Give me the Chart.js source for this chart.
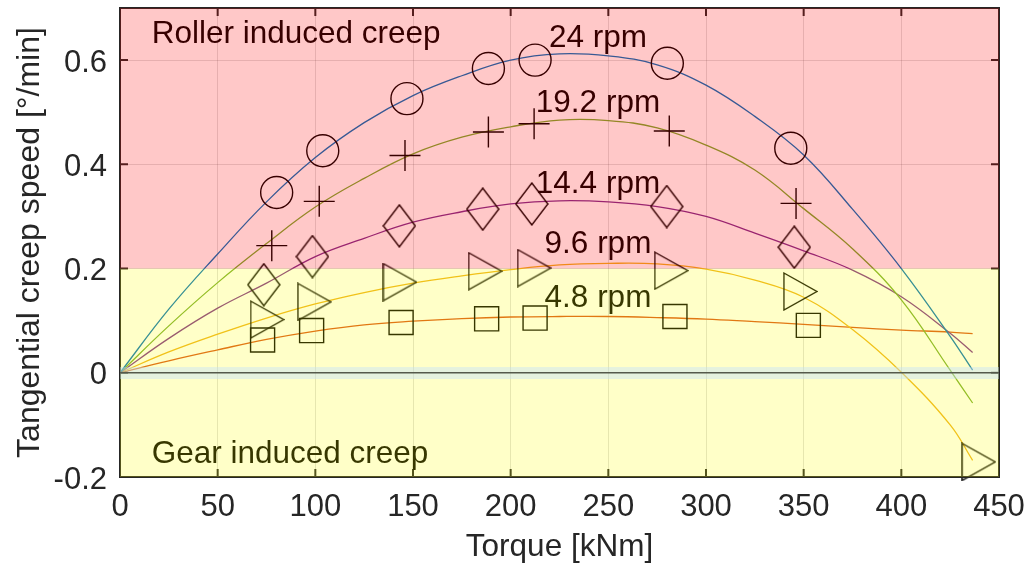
<!DOCTYPE html>
<html>
<head>
<meta charset="utf-8">
<script src="https://cdn.jsdelivr.net/npm/chart.js@4"></script>
<style>
  body { margin: 0; background: #fff; }
  #wrap { width: 1028px; height: 566px; }
</style>
</head>
<body>
<div id="wrap"><canvas id="creep"></canvas></div>
<script>
// rotation speeds and their labels
const speeds = ['24 rpm', '19.2 rpm', '14.4 rpm', '9.6 rpm', '4.8 rpm'];
const lineColors = ['#0072BD', '#77AC30', '#7E2F8E', '#EDB120', '#D95319'];

// fitted curves at these torques [kNm]
const curveTorque = [0, 25, 50, 75, 100, 125, 150, 175, 200, 225, 250, 275, 300, 325, 350, 375, 400, 425, 436.5];
const curve24  = [0, 0.122, 0.228, 0.328, 0.413, 0.480, 0.532, 0.570, 0.600, 0.612, 0.608, 0.591, 0.552, 0.492, 0.418, 0.314, 0.200, 0.070, 0.005];
const curve192 = [0, 0.090, 0.173, 0.248, 0.318, 0.373, 0.420, 0.452, 0.472, 0.485, 0.484, 0.470, 0.437, 0.389, 0.315, 0.238, 0.140, 0.005, -0.058];
const curve144 = [0, 0.066, 0.124, 0.172, 0.223, 0.258, 0.289, 0.309, 0.324, 0.330, 0.328, 0.319, 0.300, 0.268, 0.234, 0.197, 0.146, 0.076, 0.039];
const curve96  = [0, 0.040, 0.074, 0.105, 0.132, 0.154, 0.172, 0.186, 0.198, 0.207, 0.210, 0.209, 0.199, 0.178, 0.145, 0.083, 0.001, -0.100, -0.168];
const curve48  = [0, 0.023, 0.044, 0.064, 0.080, 0.092, 0.099, 0.104, 0.107, 0.108, 0.108, 0.106, 0.103, 0.098, 0.093, 0.087, 0.082, 0.078, 0.075];

// measured points
const meas24x  = [80.2, 103.8, 146.9, 188.6, 212.5, 280.2, 343.4];
const meas24y  = [0.346, 0.426, 0.526, 0.584, 0.600, 0.594, 0.431];
const meas192x = [77.7, 102.0, 145.9, 188.6, 212.0, 281.2, 346.1];
const meas192y = [0.244, 0.329, 0.417, 0.462, 0.478, 0.464, 0.325];
const meas144x = [73.6, 98.5, 143.0, 185.7, 210.8, 279.9, 345.2];
const meas144y = [0.169, 0.223, 0.282, 0.314, 0.324, 0.319, 0.241];
const meas96x  = [75.3, 99.5, 143.3, 186.9, 212.0, 282.2, 348.3, 439.6];
const meas96y  = [0.102, 0.136, 0.174, 0.195, 0.201, 0.196, 0.156, -0.171];
const meas48x  = [73.0, 98.1, 143.9, 187.7, 212.5, 284.1, 352.4];
const meas48y  = [0.063, 0.081, 0.0965, 0.1035, 0.105, 0.108, 0.091];

// axes
const xTicks = [0, 50, 100, 150, 200, 250, 300, 350, 400, 450];
const yTicks = [-0.2, 0, 0.2, 0.4, 0.6];
const yTickLabels = ['-0.2', '0', '0.2', '0.4', '0.6'];
const zoneEdges = [-0.2, 0.2, 0.7];   // gear zone / roller zone
const zoneNames = ['Gear induced creep', 'Roller induced creep'];

const FONT = '"Liberation Sans", Arial, sans-serif';
Chart.defaults.font.family = FONT;

function pts(xs, ys) { return xs.map((x, i) => ({x: x, y: ys[i]})); }

// marker glyphs that chart.js has no shape for
function glyph(w, h, draw) {
  const c = document.createElement('canvas');
  c.width = w; c.height = h;
  const g = c.getContext('2d');
  g.strokeStyle = '#000'; g.lineWidth = 1.4;
  g.beginPath(); draw(g, w, h); g.closePath(); g.stroke();
  return c;
}
const diamond = glyph(34, 44, (g, w, h) => { g.moveTo(w / 2, 1); g.lineTo(w - 1, h / 2); g.lineTo(w / 2, h - 1); g.lineTo(1, h / 2); });
const triRight = glyph(35, 39, (g, w, h) => { g.moveTo(1, 1); g.lineTo(w - 1, h / 2); g.lineTo(1, h - 1); });

function markers(data, style, r) {
  return { data: data, showLine: false, pointStyle: style, pointRadius: r, pointBorderColor: '#000',
           pointBackgroundColor: 'rgba(0,0,0,0)', pointBorderWidth: 1.4, clip: false };
}
function curve(ys, color) {
  return { data: pts(curveTorque, ys), showLine: true, borderColor: color, borderWidth: 1.3,
           pointRadius: 0, tension: 0.4 };
}

// labels in data units: torque, creep speed (baseline)
const speedLabelAt = [[244.7, 0.626], [244.7, 0.501], [244.7, 0.345], [244.7, 0.230], [244.7, 0.127]];
const zoneLabelAt = [[16.2, -0.1726], [16.2, 0.632]];

const zones = {
  id: 'zones',
  afterDatasetsDraw(chart) {
    const {ctx, chartArea: a, scales: {x, y}} = chart;
    ctx.save();
    // frame with inward ticks
    ctx.strokeStyle = '#262626'; ctx.lineWidth = 2;
    ctx.strokeRect(a.left, a.top, a.right - a.left, a.bottom - a.top);
    ctx.beginPath();
    xTicks.forEach(v => {
      const p = x.getPixelForValue(v);
      ctx.moveTo(p, a.bottom); ctx.lineTo(p, a.bottom - 8);
      ctx.moveTo(p, a.top); ctx.lineTo(p, a.top + 8);
    });
    yTicks.forEach(v => {
      const p = y.getPixelForValue(v);
      ctx.moveTo(a.left, p); ctx.lineTo(a.left + 8, p);
      ctx.moveTo(a.right, p); ctx.lineTo(a.right - 8, p);
    });
    ctx.stroke();
    // texts
    ctx.fillStyle = '#000';
    ctx.font = '31.5px ' + FONT;
    ctx.textBaseline = 'alphabetic';
    ctx.textAlign = 'center';
    speeds.forEach((s, i) => ctx.fillText(s, x.getPixelForValue(speedLabelAt[i][0]), y.getPixelForValue(speedLabelAt[i][1])));
    ctx.textAlign = 'left';
    zoneNames.forEach((s, i) => ctx.fillText(s, x.getPixelForValue(zoneLabelAt[i][0]), y.getPixelForValue(zoneLabelAt[i][1])));
    // translucent zones over everything
    const w = a.right - a.left;
    const y0 = y.getPixelForValue(zoneEdges[0]), y1 = y.getPixelForValue(zoneEdges[1]), y2 = y.getPixelForValue(zoneEdges[2]);
    ctx.fillStyle = 'rgba(255,255,0,0.216)';
    ctx.fillRect(a.left, y1, w, y0 - y1);
    ctx.fillStyle = 'rgba(255,0,0,0.216)';
    ctx.fillRect(a.left, y2, w, y1 - y2);
    // band around zero
    const b1 = y.getPixelForValue(0.011), b0 = y.getPixelForValue(-0.012);
    ctx.fillStyle = 'rgba(190,222,255,0.4)';
    ctx.fillRect(a.left, b1, w, b0 - b1);
    const z = y.getPixelForValue(0);
    ctx.strokeStyle = 'rgb(85,90,75)'; ctx.lineWidth = 1.5;
    ctx.beginPath(); ctx.moveTo(a.left, z); ctx.lineTo(a.right, z); ctx.stroke();
    ctx.restore();
  }
};

new Chart(document.getElementById('creep'), {
  type: 'scatter',
  data: {
    datasets: [
      markers(pts(meas24x, meas24y), 'circle', 16),
      markers(pts(meas192x, meas192y), 'cross', 15.5),
      markers(pts(meas144x, meas144y), diamond, 17),
      markers(pts(meas96x, meas96y), triRight, 17),
      markers(pts(meas48x, meas48y), 'rect', 17),
      curve(curve24, lineColors[0]),
      curve(curve192, lineColors[1]),
      curve(curve144, lineColors[2]),
      curve(curve96, lineColors[3]),
      curve(curve48, lineColors[4])
    ]
  },
  options: {
    responsive: true,
    maintainAspectRatio: false,
    animation: false,
    layout: { autoPadding: false, padding: { top: 8, right: 29, left: 0, bottom: 0 } },
    plugins: { legend: { display: false }, tooltip: { enabled: false } },
    scales: {
      x: {
        type: 'linear', min: 0, max: 450,
        afterBuildTicks: s => { s.ticks = xTicks.map(v => ({value: v})); },
        afterFit: s => { s.height = 89; s.paddingLeft = 0; s.paddingRight = 0; },
        grid: { color: 'rgba(38,38,38,0.15)', drawTicks: false },
        border: { display: false },
        ticks: { color: '#262626', font: { size: 31 }, padding: 12, maxRotation: 0 },
        title: { display: true, text: 'Torque [kNm]', color: '#262626', font: { size: 31.5 }, padding: { top: 0, bottom: 0 } }
      },
      y: {
        type: 'linear', min: -0.2, max: 0.7,
        afterBuildTicks: s => { s.ticks = yTicks.map(v => ({value: v})); },
        afterFit: s => { s.width = 120; s.paddingTop = 0; s.paddingBottom = 0; },
        grid: { color: 'rgba(38,38,38,0.15)', drawTicks: false },
        border: { display: false },
        ticks: { color: '#262626', font: { size: 31 }, padding: 13, labelOffset: 3,
                 callback: (v, i) => yTickLabels[i] },
        title: { display: true, text: 'Tangential creep speed [°/min]', color: '#262626', font: { size: 32 }, padding: { top: 11, bottom: 0 } }
      }
    }
  },
  plugins: [zones]
});
</script>
</body>
</html>
